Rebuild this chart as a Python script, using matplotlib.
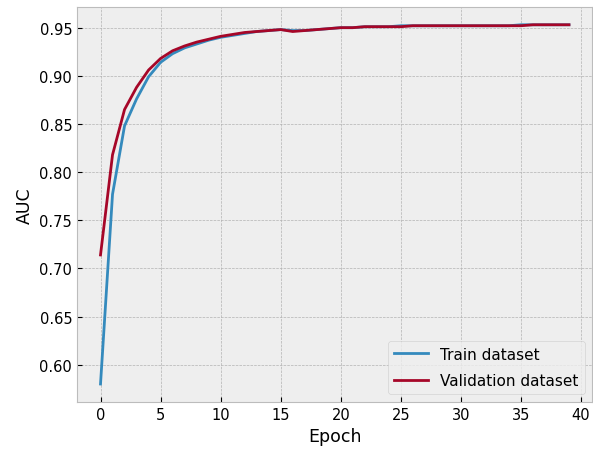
import matplotlib
matplotlib.use("Agg")
import matplotlib.pyplot as plt

plt.style.use("bmh")

epochs = list(range(40))
train_auc = [0.580, 0.777, 0.848, 0.876, 0.899, 0.914, 0.923, 0.929, 0.933, 0.937,
             0.940, 0.942, 0.944, 0.946, 0.947, 0.948, 0.947, 0.947, 0.948, 0.949,
             0.950, 0.950, 0.951, 0.951, 0.951, 0.952, 0.952, 0.952, 0.952, 0.952,
             0.952, 0.952, 0.952, 0.952, 0.952, 0.953, 0.953, 0.953, 0.953, 0.953]
val_auc = [0.714, 0.818, 0.865, 0.888, 0.906, 0.918, 0.926, 0.931, 0.935, 0.938,
           0.941, 0.943, 0.945, 0.946, 0.947, 0.948, 0.946, 0.947, 0.948, 0.949,
           0.950, 0.950, 0.951, 0.951, 0.951, 0.951, 0.952, 0.952, 0.952, 0.952,
           0.952, 0.952, 0.952, 0.952, 0.952, 0.952, 0.953, 0.953, 0.953, 0.953]

fig = plt.figure(figsize=(5.93, 4.6), dpi=100)
ax = fig.add_axes([0.13, 0.124, 0.869, 0.859])
ax.plot(epochs, train_auc, label="Train dataset", linewidth=2)
ax.plot(epochs, val_auc, label="Validation dataset", linewidth=2)
ax.set_xlabel("Epoch", fontsize=12.5)
ax.set_ylabel("AUC", fontsize=12.5)
ax.tick_params(labelsize=10.5)
ax.legend(loc="lower right", fontsize=11, handlelength=2.2, labelspacing=0.75)
fig.savefig("out.png", dpi=100)
